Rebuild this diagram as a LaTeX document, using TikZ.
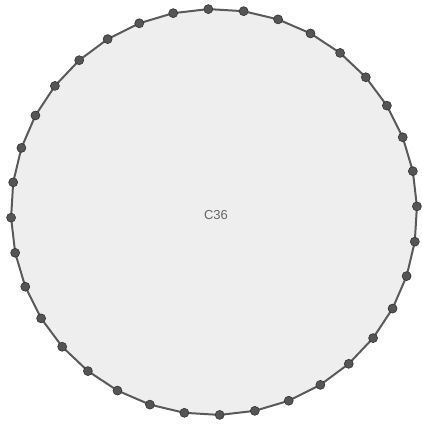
\documentclass[tikz,border=0pt]{standalone}
\usepackage{fontspec}
\setmainfont{Liberation Sans}
\usetikzlibrary{calc,backgrounds}
\definecolor{fillgray}{HTML}{EEEEEE}
\definecolor{edgegray}{HTML}{5A5A5A}
\definecolor{dotfill}{HTML}{555555}
\definecolor{dotdraw}{HTML}{333333}
\definecolor{labelgray}{HTML}{666666}
\begin{document}
\begin{tikzpicture}[x=1pt,y=-1pt,
  vertex/.style={circle,fill=dotfill,draw=dotdraw,line width=0.6pt,minimum size=9pt,inner sep=0pt},
  edge/.style={draw=edgegray,line width=2pt},
  lbl/.style={text=labelgray,font=\fontsize{13}{15}\selectfont}]
\useasboundingbox (0,0) rectangle (421,425);
\coordinate (c) at (214,212);
\foreach \k in {0,...,35}{
  \node[vertex] (v\k) at ($(c)+({cos(91.6+10*\k)*203},{-sin(91.6+10*\k)*203})$) {};
}
\begin{scope}[on background layer]
\fill[fillgray] (v0.center) \foreach \k in {1,...,35}{ -- (v\k.center)} -- cycle;
\foreach \k [evaluate=\k as \n using {int(mod(\k+1,36))}] in {0,...,35}{
  \draw[edge] (v\k.center) -- (v\n.center);
}
\end{scope}
\node[lbl] (title) at (216,215.5) {C36};
\end{tikzpicture}
\end{document}
